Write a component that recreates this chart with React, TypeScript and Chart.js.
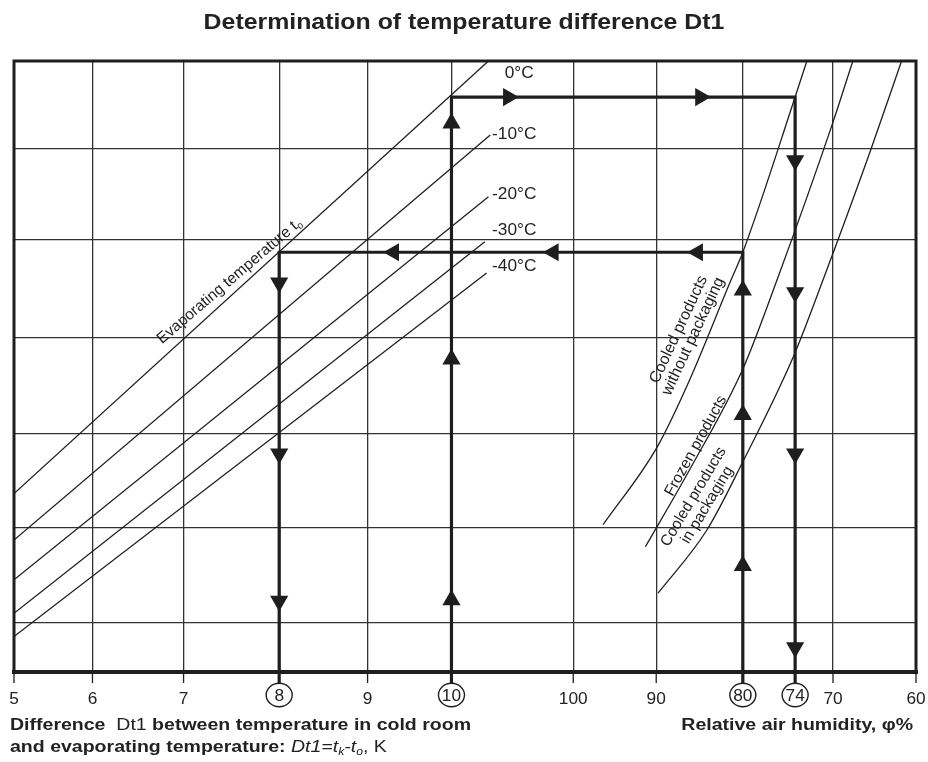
import React, { useEffect, useRef } from 'react';
import { Chart, registerables } from 'chart.js';

Chart.register(...registerables);

// ---------- nomogram axis (positions 0–100 along the frame) ----------
const xTickPos = [0, 8.7, 18.8, 29.4, 39.2, 48.5, 62.0, 71.2, 80.8, 86.6, 90.8, 100];
const xTickLabels = ['5', '6', '7', '8', '9', '10', '100', '90', '80', '74', '70', '60'];
const circledLabels = ['8', '10', '80', '74'];
const noGridLabels = ['74'];
const yGridPos = [8.0, 23.6, 39.0, 54.7, 70.7, 85.6];

// ---------- evaporating temperature lines ----------
const evapNames = ['0°C', '-10°C', '-20°C', '-30°C', '-40°C'];
const evapStartY = [29.2, 21.6, 15.1, 9.6, 5.8];
const evapEndX = [52.6, 52.8, 52.6, 52.2, 52.4];
const evapEndY = [100, 87.9, 77.8, 70.4, 65.3];
const evapLabelX = [54.4, 53.0, 53.0, 53.0, 53.0];
const evapLabelY = [97.9, 87.9, 78.1, 72.2, 66.3];

// ---------- product curves ----------
const cooledNoPackX = [65.3, 71.3, 74.9, 79.5, 80.8, 86.6, 87.9];
const cooledNoPackY = [24.1, 36.8, 47.8, 64.2, 68.7, 94.1, 100];
const frozenX = [70.0, 74.9, 80.8, 84.6, 90.8, 93.0];
const frozenY = [20.5, 33.1, 49.6, 64.2, 90.0, 100];
const cooledPackX = [71.4, 76.8, 80.8, 86.4, 89.7, 94.9, 98.4];
const cooledPackY = [12.9, 23.2, 34.4, 51.6, 64.2, 85.1, 100];

// ---------- worked examples ----------
const example1Level = 94.1; // Dt1 = 10 K  ->  0°C line  ->  cooled w/o packaging -> 74 %
const example2Level = 68.7; // 80 %  ->  cooled w/o packaging -> 0°C line -> 8 K
const upArrowsOn10 = [11.8, 51.2, 89.8];
const rightArrowsOnLevel1 = [54.8, 76.1];
const downArrowsOn74 = [83.7, 62.1, 35.7, 4.0];
const upArrowsOn80 = [17.4, 42.1, 62.5];
const leftArrowsOnLevel2 = [75.8, 59.8, 42.1];
const downArrowsOn8 = [63.7, 35.7, 11.6];

// ---------- rotated annotations ----------
const evapTitleX = 23.9;
const evapTitleY = 64.0;
const productLabelLines = [
  ['Cooled products', 'without packaging'],
  ['Frozen products'],
  ['Cooled products', 'in packaging'],
];
const productLabelX = [74.5, 75.6, 76.1];
const productLabelY = [55.5, 37.0, 28.0];
const productLabelAngle = [-65, -61, -59];

const FONT = '"Liberation Sans", Arial, Helvetica, sans-serif';
const INK = '#1e1e1e';
const TEXT = '#222';

type Seg = { t: string; font: string; dy?: number };

function drawSegs(ctx: CanvasRenderingContext2D, segs: Seg[], x: number, y: number, align: 'left' | 'right' | 'center', sx: number) {
  ctx.save();
  let total = 0;
  const widths = segs.map((s) => {
    ctx.font = s.font;
    const w = ctx.measureText(s.t).width;
    total += w;
    return w;
  });
  ctx.translate(x, y);
  ctx.scale(sx, 1);
  let cx = align === 'left' ? 0 : align === 'right' ? -total : -total / 2;
  ctx.textAlign = 'left';
  segs.forEach((s, i) => {
    ctx.font = s.font;
    ctx.fillText(s.t, cx, s.dy || 0);
    cx += widths[i];
  });
  ctx.restore();
}

function drawRotated(ctx: CanvasRenderingContext2D, lines: Seg[][], x: number, y: number, angle: number, lineH: number) {
  ctx.save();
  ctx.translate(x, y);
  ctx.rotate((angle * Math.PI) / 180);
  ctx.textBaseline = 'middle';
  const n = lines.length;
  lines.forEach((segs, i) => drawSegs(ctx, segs, 0, (i - (n - 1) / 2) * lineH, 'center', 1));
  ctx.restore();
}

const nomogramPlugin = {
  id: 'nomogram',
  beforeDatasetsDraw(chart: any) {
    const { ctx, chartArea: a } = chart;
    ctx.save();
    ctx.strokeStyle = INK;
    ctx.lineCap = 'square';
    ctx.lineWidth = 3;
    ctx.beginPath();
    ctx.moveTo(a.left, a.bottom);
    ctx.lineTo(a.left, a.top);
    ctx.lineTo(a.right, a.top);
    ctx.lineTo(a.right, a.bottom);
    ctx.stroke();
    ctx.lineWidth = 4;
    ctx.beginPath();
    ctx.moveTo(a.left, a.bottom);
    ctx.lineTo(a.right, a.bottom);
    ctx.stroke();
    ctx.restore();
  },
  afterDraw(chart: any) {
    const { ctx, chartArea: a, scales } = chart;
    const xs = scales.x;
    const ys = scales.y;
    ctx.save();
    ctx.fillStyle = TEXT;
    ctx.strokeStyle = INK;

    // ticks and tick labels
    xTickLabels.forEach((lab, i) => {
      const px = xs.getPixelForValue(xTickPos[i]);
      const circled = circledLabels.includes(lab);
      ctx.beginPath();
      if (circled) {
        ctx.lineWidth = 3.2;
        ctx.moveTo(px, a.bottom);
        ctx.lineTo(px, a.bottom + 11);
        ctx.stroke();
        ctx.lineWidth = 1.4;
        ctx.beginPath();
        ctx.ellipse(px, a.bottom + 23, 13, 11.7, 0, 0, Math.PI * 2);
        ctx.stroke();
        ctx.textBaseline = 'alphabetic';
        drawSegs(ctx, [{ t: lab, font: `16px ${FONT}` }], px, a.bottom + 29, 'center', 1.08);
      } else {
        ctx.lineWidth = 1.3;
        ctx.moveTo(px, a.bottom);
        ctx.lineTo(px, a.bottom + 11);
        ctx.stroke();
        ctx.textBaseline = 'alphabetic';
        drawSegs(ctx, [{ t: lab, font: `16px ${FONT}` }], px, a.bottom + 31.5, 'center', 1.08);
      }
    });

    // evaporating temperature labels
    ctx.textBaseline = 'middle';
    evapNames.forEach((n, i) => {
      drawSegs(ctx, [{ t: n, font: `16px ${FONT}` }], xs.getPixelForValue(evapLabelX[i]), ys.getPixelForValue(evapLabelY[i]), 'left', 1.08);
    });

    // rotated annotations
    drawRotated(
      ctx,
      [[
        { t: 'Evaporating temperature t', font: `15.5px ${FONT}` },
        { t: 'o', font: `10px ${FONT}`, dy: 4 },
      ]],
      xs.getPixelForValue(evapTitleX),
      ys.getPixelForValue(evapTitleY),
      -40.5,
      16
    );
    productLabelLines.forEach((lines, i) => {
      drawRotated(
        ctx,
        lines.map((l) => [{ t: l, font: `${i === 0 ? 16 : 15.5}px ${FONT}` }]),
        xs.getPixelForValue(productLabelX[i]),
        ys.getPixelForValue(productLabelY[i]),
        productLabelAngle[i],
        16
      );
    });

    // axis titles
    ctx.textBaseline = 'alphabetic';
    const B = `bold 16px ${FONT}`;
    const R = `16px ${FONT}`;
    const I = `italic 16px ${FONT}`;
    const IS = `italic 10px ${FONT}`;
    drawSegs(ctx, [
      { t: 'Difference ', font: B },
      { t: ' Dt1 ', font: R },
      { t: 'between temperature in cold room', font: B },
    ], 10, a.bottom + 58, 'left', 1.22);
    drawSegs(ctx, [
      { t: 'and evaporating temperature: ', font: B },
      { t: 'Dt1=t', font: I },
      { t: 'k', font: IS, dy: 3 },
      { t: '-t', font: I },
      { t: 'o', font: IS, dy: 3 },
      { t: ', K', font: R },
    ], 10, a.bottom + 80, 'left', 1.22);
    drawSegs(ctx, [{ t: 'Relative air humidity, φ%', font: B }], 913, a.bottom + 58, 'right', 1.22);

    // chart title
    drawSegs(ctx, [{ t: 'Determination of temperature difference Dt1', font: `bold 22px ${FONT}` }], 464, 29, 'center', 1.13);
    ctx.restore();
  },
};

const pts = (xs: number[], ys: number[]) => xs.map((x, i) => ({ x, y: ys[i] }));

export default function App() {
  const ref = useRef<HTMLCanvasElement | null>(null);

  useEffect(() => {
    if (!ref.current) return;
    const xAt = (lab: string) => xTickPos[xTickLabels.indexOf(lab)];
    const x10 = xAt('10');
    const x74 = xAt('74');
    const x80 = xAt('80');
    const x8 = xAt('8');

    const arrowSet = (data: { x: number; y: number }[], rot: number) => ({
      data,
      showLine: false,
      pointStyle: 'triangle',
      pointRotation: rot,
      pointRadius: 10.5,
      pointBackgroundColor: INK,
      pointBorderColor: INK,
      pointBorderWidth: 0,
    });
    const lineSet = (data: { x: number; y: number }[], w: number, extra: any = {}) => ({
      data,
      showLine: true,
      borderColor: INK,
      borderWidth: w,
      pointRadius: 0,
      fill: false,
      ...extra,
    });

    const datasets: any[] = [
      arrowSet(upArrowsOn10.map((y) => ({ x: x10, y })), 0),
      arrowSet(upArrowsOn80.map((y) => ({ x: x80, y })), 0),
      arrowSet(rightArrowsOnLevel1.map((x) => ({ x, y: example1Level })), 90),
      arrowSet(downArrowsOn74.map((y) => ({ x: x74, y })), 180),
      arrowSet(downArrowsOn8.map((y) => ({ x: x8, y })), 180),
      arrowSet(leftArrowsOnLevel2.map((x) => ({ x, y: example2Level })), 270),
      lineSet([{ x: x10, y: 0 }, { x: x10, y: example1Level }, { x: x74, y: example1Level }, { x: x74, y: 0 }], 3.2, { borderJoinStyle: 'miter' }),
      lineSet([{ x: x80, y: 0 }, { x: x80, y: example2Level }, { x: x8, y: example2Level }, { x: x8, y: 0 }], 3.2, { borderJoinStyle: 'miter' }),
      lineSet(pts(cooledNoPackX, cooledNoPackY), 1.3, { cubicInterpolationMode: 'monotone' }),
      lineSet(pts(frozenX, frozenY), 1.3, { cubicInterpolationMode: 'monotone' }),
      lineSet(pts(cooledPackX, cooledPackY), 1.3, { cubicInterpolationMode: 'monotone' }),
      ...evapNames.map((_, i) => lineSet([{ x: 0, y: evapStartY[i] }, { x: evapEndX[i], y: evapEndY[i] }], 1.3)),
    ];

    const chart = new Chart(ref.current, {
      type: 'scatter',
      data: { datasets },
      options: {
        responsive: false,
        animation: false,
        devicePixelRatio: 1,
        layout: { padding: { left: 14, right: 12, top: 61, bottom: 90 } },
        plugins: { legend: { display: false }, tooltip: { enabled: false }, title: { display: false } },
        scales: {
          x: {
            type: 'linear',
            min: 0,
            max: 100,
            afterBuildTicks: (s: any) => {
              s.ticks = xTickPos.map((v) => ({ value: v }));
            },
            ticks: { display: false },
            border: { display: false },
            grid: {
              drawTicks: false,
              lineWidth: 1.3,
              color: (c: any) => (noGridLabels.includes(xTickLabels[c.index]) ? 'rgba(0,0,0,0)' : '#333'),
            },
          },
          y: {
            type: 'linear',
            min: 0,
            max: 100,
            afterBuildTicks: (s: any) => {
              s.ticks = yGridPos.map((v) => ({ value: v }));
            },
            ticks: { display: false },
            border: { display: false },
            grid: { drawTicks: false, lineWidth: 1.3, color: '#333' },
          },
        },
      },
      plugins: [nomogramPlugin],
    } as any);
    return () => chart.destroy();
  }, []);

  return (
    <div style={{ position: 'absolute', left: 0, top: 0, width: 928, height: 762, background: '#fff' }}>
      <canvas ref={ref} width={928} height={762} />
    </div>
  );
}
